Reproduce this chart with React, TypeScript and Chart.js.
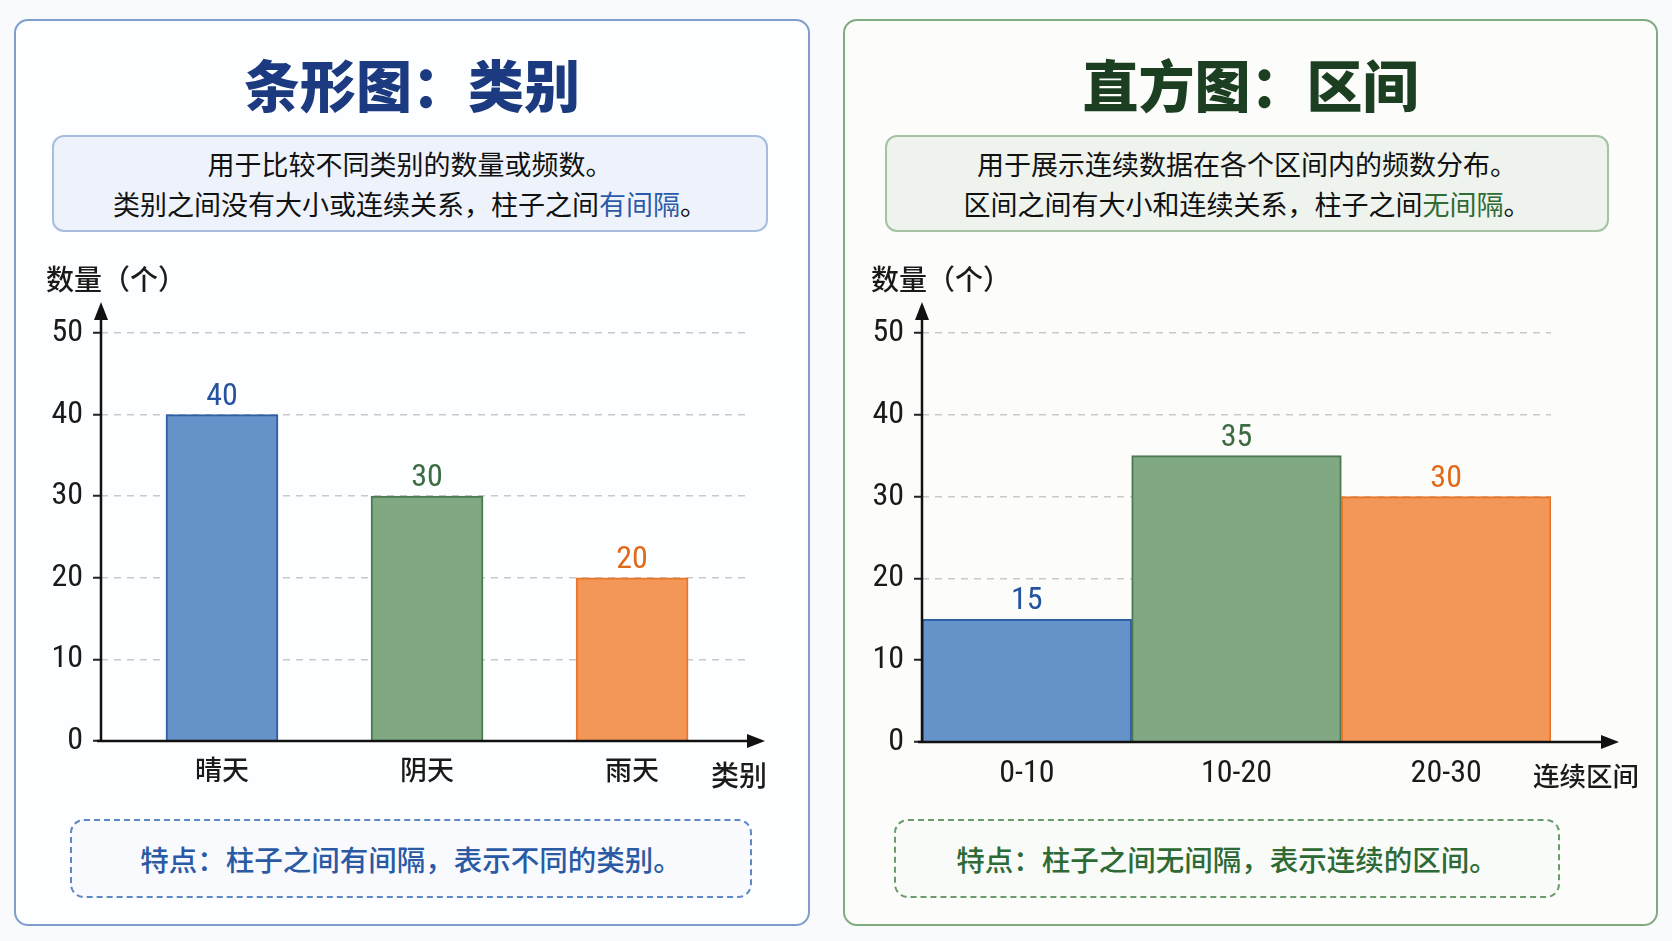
import React, { useEffect, useRef } from 'react';
import { Chart, registerables } from 'chart.js';
Chart.register(...registerables);

// ---- data ----
const barCategories = ['晴天', '阴天', '雨天'];
const barPositions = [1, 2, 3];
const barValues = [40, 30, 20];

const histBins = ['0-10', '10-20', '20-30'];
const histValues = [15, 35, 30];

const yTicksMax = 50;
const yTickStep = 10;

const fillColors = ['#6592c9', '#80a883', '#f29757'];
const borderColors = ['#2f5ea5', '#4b7a52', '#e87528'];
const valueLabelColors = ['#2553a0', '#3b6c42', '#e06a1a'];

const CJK = '"Noto Sans CJK SC", "Noto Sans", sans-serif';
const DIGIT = '"Liberation Sans Narrow", "Roboto Condensed", "DejaVu Sans Condensed", "Noto Sans CJK SC", sans-serif';

const axisDecor = {
  id: 'axisDecor',
  afterDraw(chart: any, _args: any, opts: any) {
    const { ctx, chartArea: a } = chart;
    ctx.save();
    ctx.strokeStyle = '#111';
    ctx.fillStyle = '#111';
    ctx.lineWidth = 2.5;
    // y axis with arrow
    const yTip = a.top - opts.yArrowExtra;
    ctx.beginPath();
    ctx.moveTo(a.left, a.bottom + 1);
    ctx.lineTo(a.left, yTip + 12);
    ctx.stroke();
    ctx.beginPath();
    ctx.moveTo(a.left, yTip);
    ctx.lineTo(a.left - 7, yTip + 18);
    ctx.lineTo(a.left + 7, yTip + 18);
    ctx.closePath();
    ctx.fill();
    // x axis with arrow
    const xTip = a.right + opts.xArrowExtra;
    ctx.beginPath();
    ctx.moveTo(a.left - 4, a.bottom);
    ctx.lineTo(xTip - 12, a.bottom);
    ctx.stroke();
    ctx.beginPath();
    ctx.moveTo(xTip, a.bottom);
    ctx.lineTo(xTip - 18, a.bottom - 7);
    ctx.lineTo(xTip - 18, a.bottom + 7);
    ctx.closePath();
    ctx.fill();
    // axis titles
    ctx.fillStyle = '#1a1a1a';
    ctx.font = `500 28px ${CJK}`;
    ctx.textBaseline = 'middle';
    ctx.textAlign = 'left';
    ctx.fillText(opts.yTitle, a.left - opts.yTitleDx, yTip - 23);
    ctx.textAlign = 'center';
    ctx.font = `500 ${opts.xTitleSize}px ${CJK}`;
    ctx.fillText(opts.xTitle, a.right + opts.xTitleDx, a.bottom + opts.xTitleDy);
    // value labels
    const meta = chart.getDatasetMeta(0);
    const data = chart.data.datasets[0].data;
    ctx.font = `32px ${DIGIT}`;
    ctx.textBaseline = 'bottom';
    meta.data.forEach((el: any, i: number) => {
      const raw = data[i];
      const v = typeof raw === 'number' ? raw : raw.y;
      ctx.fillStyle = opts.labelColors[i];
      ctx.fillText(String(v), el.x, el.y - 2);
    });
    ctx.restore();
  },
};

function yScale(width: number) {
  return {
    min: 0,
    max: yTicksMax,
    afterFit: (s: any) => {
      s.width = width;
    },
    ticks: {
      stepSize: yTickStep,
      padding: 10,
      color: '#1a1a1a',
      font: { family: DIGIT, size: 32 },
    },
    grid: {
      color: '#c9c9c9',
      lineWidth: 1.5,
      tickLength: 8,
      tickColor: '#222',
      tickWidth: 2,
      tickBorderDash: [],
    },
    border: { display: false, dash: [7, 6] },
  };
}

function BarChart() {
  const ref = useRef<HTMLCanvasElement>(null);
  useEffect(() => {
    const chart = new Chart(ref.current!, {
      type: 'bar',
      data: {
        datasets: [
          {
            data: barPositions.map((p, i) => ({ x: p, y: barValues[i] })),
            backgroundColor: fillColors,
            borderColor: borderColors,
            borderWidth: 2,
            barThickness: 112,
          },
        ],
      },
      plugins: [axisDecor],
      options: {
        animation: false,
        responsive: false,
        layout: { padding: { top: 93, right: 50, bottom: 9, left: 0 } },
        plugins: {
          legend: { display: false },
          tooltip: { enabled: false },
          axisDecor: {
            yArrowExtra: 31,
            xArrowExtra: 15,
            yTitle: '数量（个）',
            yTitleDx: 55,
            xTitle: '类别',
            xTitleSize: 28,
            xTitleDx: -11,
            xTitleDy: 34,
            labelColors: valueLabelColors,
          },
        } as any,
        scales: {
          x: {
            type: 'linear',
            offset: false,
            min: 0.41,
            max: 3.575,
            afterFit: (s: any) => {
              s.height = 60;
            },
            afterBuildTicks: (s: any) => {
              s.ticks = barPositions.map((v) => ({ value: v }));
            },
            ticks: {
              padding: 13,
              color: '#1a1a1a',
              font: { family: CJK, size: 27, weight: '500' },
              callback: (v: any) => {
                const i = barPositions.indexOf(Number(v));
                return i >= 0 ? barCategories[i] : '';
              },
            },
            grid: { display: false, drawTicks: false },
            border: { display: false },
          },
          y: yScale(81),
        } as any,
      },
    });
    return () => chart.destroy();
  }, []);
  return <canvas ref={ref} width={780} height={570} style={{ position: 'absolute', left: 20, top: 240 }} />;
}

function HistChart() {
  const ref = useRef<HTMLCanvasElement>(null);
  useEffect(() => {
    const chart = new Chart(ref.current!, {
      type: 'bar',
      data: {
        labels: histBins,
        datasets: [
          {
            data: histValues,
            backgroundColor: fillColors,
            borderColor: borderColors,
            borderWidth: 2,
            barPercentage: 1,
            categoryPercentage: 1,
          },
        ],
      },
      plugins: [axisDecor],
      options: {
        animation: false,
        responsive: false,
        layout: { padding: { top: 93, right: 99, bottom: 8, left: 0 } },
        plugins: {
          legend: { display: false },
          tooltip: { enabled: false },
          axisDecor: {
            yArrowExtra: 31,
            xArrowExtra: 68,
            yTitle: '数量（个）',
            yTitleDx: 51,
            xTitle: '连续区间',
            xTitleSize: 26.5,
            xTitleDx: 35,
            xTitleDy: 34,
            labelColors: valueLabelColors,
          },
        } as any,
        scales: {
          x: {
            type: 'category',
            offset: true,
            afterFit: (s: any) => {
              s.height = 60;
            },
            ticks: {
              padding: 13,
              color: '#1a1a1a',
              font: { family: DIGIT, size: 32 },
            },
            grid: { display: false, drawTicks: false },
            border: { display: false },
          },
          y: yScale(72),
        } as any,
      },
    });
    return () => chart.destroy();
  }, []);
  return <canvas ref={ref} width={800} height={570} style={{ position: 'absolute', left: 850, top: 240 }} />;
}

const abs = (s: React.CSSProperties): React.CSSProperties => ({ position: 'absolute', boxSizing: 'border-box', ...s });

export default function App() {
  return (
    <div
      style={{
        position: 'fixed',
        left: 0,
        top: 0,
        width: 1672,
        height: 941,
        background: '#f9fafb',
        fontFamily: CJK,
        overflow: 'hidden',
      }}
    >
      {/* Left panel */}
      <div style={abs({ left: 14, top: 19, width: 796, height: 907, border: '2px solid #7f9ecd', borderRadius: 14, background: '#fdfeff' })} />
      <div style={abs({ left: 14, top: 55, width: 796, textAlign: 'center', fontSize: 56, lineHeight: '56px', fontWeight: 900, color: '#1b3a80' })}>
        条形图：类别
      </div>
      <div
        style={abs({
          left: 52, top: 135, width: 716, height: 97, border: '2px solid #a7bde0', borderRadius: 12, background: '#eef3fb',
          display: 'flex', flexDirection: 'column', justifyContent: 'center', alignItems: 'center', fontSize: 27, lineHeight: '40px',
          fontWeight: 400, color: '#111',
        })}
      >
        <div>用于比较不同类别的数量或频数。</div>
        <div>
          类别之间没有大小或连续关系，柱子之间<span style={{ color: '#2a5aa8' }}>有间隔</span>。
        </div>
      </div>
      <div
        style={abs({
          left: 70, top: 819, width: 682, height: 79, border: '2px dashed #5e87c5', borderRadius: 14, background: '#f8fafe',
          display: 'flex', justifyContent: 'center', alignItems: 'center', fontSize: 28.5, fontWeight: 500, color: '#2b5aa5',
        })}
      >
        特点：柱子之间有间隔，表示不同的类别。
      </div>

      {/* Right panel */}
      <div style={abs({ left: 843, top: 19, width: 815, height: 907, border: '2px solid #80aa80', borderRadius: 14, background: '#fcfdfb' })} />
      <div style={abs({ left: 843, top: 55, width: 815, textAlign: 'center', fontSize: 56, lineHeight: '56px', fontWeight: 900, color: '#1c3f22' })}>
        直方图：区间
      </div>
      <div
        style={abs({
          left: 885, top: 135, width: 724, height: 97, border: '2px solid #a3c3a3', borderRadius: 12, background: '#eef3ee',
          display: 'flex', flexDirection: 'column', justifyContent: 'center', alignItems: 'center', fontSize: 27, lineHeight: '40px',
          fontWeight: 400, color: '#111',
        })}
      >
        <div>用于展示连续数据在各个区间内的频数分布。</div>
        <div>
          区间之间有大小和连续关系，柱子之间<span style={{ color: '#2e6b35' }}>无间隔</span>。
        </div>
      </div>
      <div
        style={abs({
          left: 894, top: 819, width: 666, height: 79, border: '2px dashed #6b9b6b', borderRadius: 14, background: '#f9fbf8',
          display: 'flex', justifyContent: 'center', alignItems: 'center', fontSize: 28.5, fontWeight: 500, color: '#2d6a35',
        })}
      >
        特点：柱子之间无间隔，表示连续的区间。
      </div>

      <BarChart />
      <HistChart />
    </div>
  );
}
